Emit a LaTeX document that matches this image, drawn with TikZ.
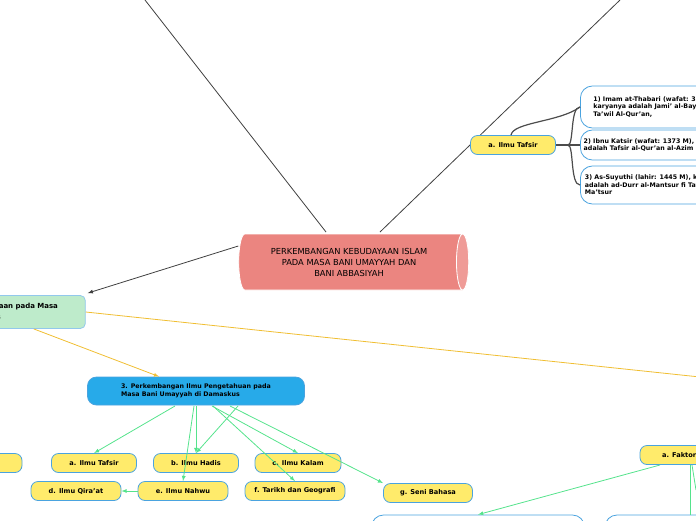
\documentclass[tikz,border=0pt]{standalone}
\usepackage{fontspec}
\setmainfont{DejaVu Sans}
\usetikzlibrary{shapes.geometric,positioning}
\definecolor{yel}{HTML}{FFEB6B}
\definecolor{bordr}{HTML}{4AA3DF}
\definecolor{blu}{HTML}{27AAE9}
\definecolor{mint}{HTML}{BEEBCB}
\definecolor{grn}{HTML}{55E38C}
\definecolor{org}{HTML}{F0BE32}
\definecolor{cyl}{HTML}{E8706A}
\tikzstyle{topic}=[shape=rectangle, rounded corners=7pt, draw=bordr, fill=yel,
                   thick, minimum height=19pt, font=\fontsize{6.6}{7.5}\selectfont\bfseries]
\tikzstyle{note}=[shape=rectangle, rounded corners=12pt, draw=bordr, fill=white,
                  thick, align=left, font=\fontsize{6.3}{7.5}\selectfont\bfseries]
\tikzstyle{grnarr}=[draw=grn, thick, -latex]

\begin{document}
\begin{tikzpicture}[x=1pt,y=-1pt,>=stealth,semithick]
\useasboundingbox (0,0) rectangle (696,520);

% central topic
\node[cylinder, shape aspect=0.35, minimum width=56pt, minimum height=230pt,
      cylinder uses custom fill, cylinder body fill=cyl!85, cylinder end fill=cyl!70,
      draw=white, thick, align=center, font=\fontsize{8.3}{11}\selectfont]
      (main) at (349,262) {PERKEMBANGAN KEBUDAYAAN ISLAM\\PADA MASA BANI UMAYYAH DAN\\BANI ABBASIYAH};
\coordinate (tl) at (145,0);
\coordinate (tr) at (620,0);
\coordinate (re) at (700,377);
\draw[thick, black!75] (tl) -- (326,232);
\draw[thick, black!75] (tr) -- (380,232);

% left branch
\node[shape=rectangle, rounded corners=5pt, draw=bordr!60, fill=mint, thick,
      text width=190pt, minimum height=33pt, align=left,
      font=\fontsize{7}{11}\selectfont\bfseries]
      (dam) at (-13,312) {2. Perkembangan Kebudayaan pada Masa\\Bani Umayyah di Damaskus};
\draw[-latex, thick, black!75] ([yshift=16pt]main.west) -- ([xshift=2pt,yshift=2pt]dam.north east);
\draw[org, thick] (dam.east) -- (re);
\node[shape=rectangle, rounded corners=9pt, draw=bordr, fill=blu, thick,
      minimum width=217pt, minimum height=28pt, align=left,
      font=\fontsize{6.3}{8}\selectfont\bfseries]
      (ilmu) at (196,391) {3. Perkembangan Ilmu Pengetahuan pada\\Masa Bani Umayyah di Damaskus\hspace{28pt}};
\draw[org, thick, -latex] ([xshift=-52pt]dam.south east) -- ([xshift=72pt]ilmu.north west);

% sciences
\node[topic, minimum width=70pt] (prev) at (-13,463) {an};
\node[topic, minimum width=85pt] (tafsir) at (94,463) {a. Ilmu Tafsir};
\node[topic, minimum width=85pt] (hadis) at (196,463) {b. Ilmu Hadis};
\node[topic, minimum width=86pt] (kalam) at (298,463) {c. Ilmu Kalam};
\node[topic, minimum width=90pt] (qiraat) at (76,491) {d. Ilmu Qira'at};
\node[topic, minimum width=90pt] (nahwu) at (183,491) {e. Ilmu Nahwu};
\node[topic, minimum width=100pt] (tarikh) at (295,491) {f. Tarikh dan Geografi};
\node[topic, minimum width=89pt] (seni) at (428,493) {g. Seni Bahasa};

\draw[grnarr] (175,406) -- (tafsir.north);
\draw[grnarr] (196,406) -- (hadis.north);
\draw[grnarr] (238,406) -- (hadis.north);
\draw[grnarr] (194,406) -- (nahwu.north);
\draw[grnarr] (213,406) -- (tarikh.north);
\draw[grnarr] (212,406) -- (kalam.north);
\draw[grnarr] (230,406) -- (seni.north west);
\draw[grnarr] (nahwu.west) -- (qiraat.east);

% tafsir branch
\node[topic, minimum width=85pt] (tafsir2) at (513,145) {a. Ilmu Tafsir};
\node[note, minimum width=150pt, minimum height=42pt, anchor=west] (thabari) at (580,107)
     {1) Imam at-Thabari (wafat: 310 H),\\karyanya adalah Jami' al-Bayan fi\\Ta'wil Al-Qur'an,};
\node[note, minimum width=150pt, minimum height=30pt, anchor=west] (katsir) at (580,145)
     {2) Ibnu Katsir (wafat: 1373 M), karyanya\\adalah Tafsir al-Qur'an al-Azim};
\node[note, minimum width=150pt, minimum height=38pt, anchor=west] (suyuthi) at (580,185)
     {3) As-Suyuthi (lahir: 1445 M), karyanya\\adalah ad-Durr al-Mantsur fi Tafsir bil\\Ma'tsur};
\draw[very thick, black!70] (tafsir2.east) -- (568,145);
\draw[very thick, black!70] (568,145) .. controls (574,145) and (570,107) .. (thabari.west);
\draw[very thick, black!70] (568,145) -- (katsir.west);
\draw[very thick, black!70] (568,145) .. controls (574,145) and (570,185) .. (suyuthi.west);
\draw[very thick, black!70] ([xshift=-2pt]tafsir2.north) .. controls (513,122) and (560,122) .. (thabari.west);

% faktor branch
\node[topic, minimum width=110pt] (faktor) at (695,455) {a. Faktor Internal};
\node[note, minimum width=213pt, minimum height=20pt] (fa) at (478,525) {};
\node[note, minimum width=120pt, minimum height=20pt] (fb) at (665,525) {};
\draw[grnarr] (660,465) -- (fa.north);
\draw[draw=grn, thick] (690,465) -- (690,515);
\draw[draw=grn, thick] (692,465) -- (696,490);
\end{tikzpicture}
\end{document}
